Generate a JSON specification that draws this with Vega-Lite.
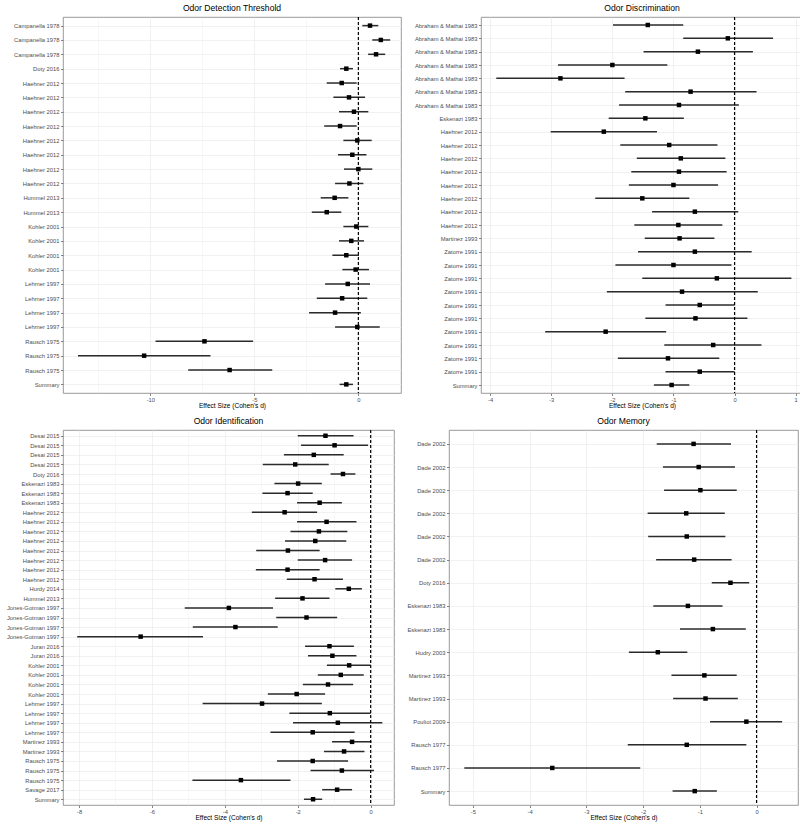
{
  "$schema": "https://vega.github.io/schema/vega-lite/v6.json",
  "background": "white",
  "padding": {"left": 0, "top": 3, "right": 0, "bottom": 0},
  "config": {
    "font": "Liberation Sans",
    "view": {"stroke": "#808080", "strokeWidth": 0.8},
    "axis": {
      "labelFontSize": 5.8,
      "labelColor": "#4d4d4d",
      "tickColor": "#333333",
      "tickSize": 2.5,
      "tickWidth": 0.6,
      "labelPadding": 1.5,
      "domain": false,
      "gridColor": "#ebebeb",
      "gridWidth": 0.7,
      "titleFontSize": 6.6,
      "titleFontWeight": "normal",
      "titleColor": "#000000",
      "titlePadding": 1.5
    },
    "axisX": {"labelPadding": 0.5, "titlePadding": 1},
    "title": {"fontSize": 8.6, "fontWeight": "normal", "anchor": "middle", "offset": 3.5, "color": "#000000"}
  },
  "datasets": {
    "d1": [
      {"id": "01|Campanella 1978", "es": 0.56, "lo": 0.19, "hi": 0.96},
      {"id": "02|Campanella 1978", "es": 1.08, "lo": 0.67, "hi": 1.53},
      {"id": "03|Campanella 1978", "es": 0.85, "lo": 0.47, "hi": 1.29},
      {"id": "04|Doty 2016", "es": -0.58, "lo": -0.88, "hi": -0.26},
      {"id": "05|Haehner 2012", "es": -0.80, "lo": -1.52, "hi": -0.08},
      {"id": "06|Haehner 2012", "es": -0.45, "lo": -1.20, "hi": 0.32},
      {"id": "07|Haehner 2012", "es": -0.21, "lo": -0.93, "hi": 0.48},
      {"id": "08|Haehner 2012", "es": -0.88, "lo": -1.64, "hi": -0.08},
      {"id": "09|Haehner 2012", "es": -0.05, "lo": -0.72, "hi": 0.64},
      {"id": "10|Haehner 2012", "es": -0.29, "lo": -0.98, "hi": 0.39},
      {"id": "11|Haehner 2012", "es": 0.0, "lo": -0.69, "hi": 0.67},
      {"id": "12|Haehner 2012", "es": -0.43, "lo": -1.12, "hi": 0.24},
      {"id": "13|Hummel 2013", "es": -1.14, "lo": -1.81, "hi": -0.48},
      {"id": "14|Hummel 2013", "es": -1.52, "lo": -2.24, "hi": -0.82},
      {"id": "15|Kohler 2001", "es": -0.10, "lo": -0.72, "hi": 0.48},
      {"id": "16|Kohler 2001", "es": -0.34, "lo": -0.93, "hi": 0.27},
      {"id": "17|Kohler 2001", "es": -0.58, "lo": -1.25, "hi": 0.03},
      {"id": "18|Kohler 2001", "es": -0.13, "lo": -0.77, "hi": 0.51},
      {"id": "19|Lehrner 1997", "es": -0.51, "lo": -1.60, "hi": 0.56},
      {"id": "20|Lehrner 1997", "es": -0.78, "lo": -2.00, "hi": 0.43},
      {"id": "21|Lehrner 1997", "es": -1.12, "lo": -2.37, "hi": 0.12},
      {"id": "22|Lehrner 1997", "es": -0.05, "lo": -1.12, "hi": 1.03},
      {"id": "23|Rausch 1975", "es": -7.40, "lo": -9.75, "hi": -5.06},
      {"id": "24|Rausch 1975", "es": -10.30, "lo": -13.48, "hi": -7.11},
      {"id": "25|Rausch 1975", "es": -6.19, "lo": -8.18, "hi": -4.14},
      {"id": "26|Summary", "es": -0.58, "lo": -0.90, "hi": -0.26}
    ],
    "d2": [
      {"id": "01|Abraham & Mathai 1983", "es": -1.42, "lo": -1.99, "hi": -0.84},
      {"id": "02|Abraham & Mathai 1983", "es": -0.11, "lo": -0.84, "hi": 0.63},
      {"id": "03|Abraham & Mathai 1983", "es": -0.60, "lo": -1.49, "hi": 0.30},
      {"id": "04|Abraham & Mathai 1983", "es": -2.00, "lo": -2.89, "hi": -1.10},
      {"id": "05|Abraham & Mathai 1983", "es": -2.85, "lo": -3.90, "hi": -1.80},
      {"id": "06|Abraham & Mathai 1983", "es": -0.72, "lo": -1.79, "hi": 0.36},
      {"id": "07|Abraham & Mathai 1983", "es": -0.91, "lo": -1.89, "hi": 0.07},
      {"id": "08|Eskenazi 1983", "es": -1.46, "lo": -2.06, "hi": -0.83},
      {"id": "09|Haehner 2012", "es": -2.14, "lo": -3.01, "hi": -1.27},
      {"id": "10|Haehner 2012", "es": -1.07, "lo": -1.87, "hi": -0.28},
      {"id": "11|Haehner 2012", "es": -0.88, "lo": -1.60, "hi": -0.15},
      {"id": "12|Haehner 2012", "es": -0.91, "lo": -1.69, "hi": -0.13},
      {"id": "13|Haehner 2012", "es": -1.00, "lo": -1.73, "hi": -0.27},
      {"id": "14|Haehner 2012", "es": -1.51, "lo": -2.28, "hi": -0.74},
      {"id": "15|Haehner 2012", "es": -0.65, "lo": -1.35, "hi": 0.06},
      {"id": "16|Haehner 2012", "es": -0.92, "lo": -1.64, "hi": -0.20},
      {"id": "17|Martinez 1993", "es": -0.90, "lo": -1.47, "hi": -0.33},
      {"id": "18|Zatorre 1991", "es": -0.65, "lo": -1.58, "hi": 0.28},
      {"id": "19|Zatorre 1991", "es": -1.00, "lo": -1.95, "hi": -0.05},
      {"id": "20|Zatorre 1991", "es": -0.29, "lo": -1.51, "hi": 0.93},
      {"id": "21|Zatorre 1991", "es": -0.86, "lo": -2.09, "hi": 0.38},
      {"id": "22|Zatorre 1991", "es": -0.57, "lo": -1.13, "hi": 0.0},
      {"id": "23|Zatorre 1991", "es": -0.64, "lo": -1.46, "hi": 0.21},
      {"id": "24|Zatorre 1991", "es": -2.11, "lo": -3.10, "hi": -1.12},
      {"id": "25|Zatorre 1991", "es": -0.35, "lo": -1.15, "hi": 0.44},
      {"id": "26|Zatorre 1991", "es": -1.09, "lo": -1.91, "hi": -0.25},
      {"id": "27|Zatorre 1991", "es": -0.57, "lo": -1.13, "hi": 0.0},
      {"id": "28|Summary", "es": -1.03, "lo": -1.32, "hi": -0.74}
    ],
    "d3": [
      {"id": "01|Desai 2015", "es": -1.24, "lo": -2.00, "hi": -0.47},
      {"id": "02|Desai 2015", "es": -0.99, "lo": -1.91, "hi": -0.07},
      {"id": "03|Desai 2015", "es": -1.56, "lo": -2.38, "hi": -0.74},
      {"id": "04|Desai 2015", "es": -2.07, "lo": -2.96, "hi": -1.15},
      {"id": "05|Doty 2016", "es": -0.76, "lo": -1.10, "hi": -0.42},
      {"id": "06|Eskenazi 1983", "es": -1.99, "lo": -2.64, "hi": -1.34},
      {"id": "07|Eskenazi 1983", "es": -2.28, "lo": -2.97, "hi": -1.59},
      {"id": "08|Eskenazi 1983", "es": -1.40, "lo": -2.02, "hi": -0.79},
      {"id": "09|Haehner 2012", "es": -2.36, "lo": -3.26, "hi": -1.47},
      {"id": "10|Haehner 2012", "es": -1.21, "lo": -2.02, "hi": -0.39},
      {"id": "11|Haehner 2012", "es": -1.42, "lo": -2.20, "hi": -0.64},
      {"id": "12|Haehner 2012", "es": -1.52, "lo": -2.35, "hi": -0.67},
      {"id": "13|Haehner 2012", "es": -2.27, "lo": -3.14, "hi": -1.40},
      {"id": "14|Haehner 2012", "es": -1.25, "lo": -2.00, "hi": -0.51},
      {"id": "15|Haehner 2012", "es": -2.28, "lo": -3.15, "hi": -1.40},
      {"id": "16|Haehner 2012", "es": -1.54, "lo": -2.30, "hi": -0.76},
      {"id": "17|Hurdy 2014", "es": -0.60, "lo": -0.97, "hi": -0.24},
      {"id": "18|Hummel 2013", "es": -1.87, "lo": -2.62, "hi": -1.13},
      {"id": "19|Jones-Gotman 1997", "es": -3.89, "lo": -5.10, "hi": -2.68},
      {"id": "20|Jones-Gotman 1997", "es": -1.76, "lo": -2.59, "hi": -0.92},
      {"id": "21|Jones-Gotman 1997", "es": -3.71, "lo": -4.88, "hi": -2.55},
      {"id": "22|Jones-Gotman 1997", "es": -6.31, "lo": -8.05, "hi": -4.60},
      {"id": "23|Juran 2016", "es": -1.13, "lo": -1.80, "hi": -0.46},
      {"id": "24|Juran 2016", "es": -1.05, "lo": -1.72, "hi": -0.39},
      {"id": "25|Kohler 2001", "es": -0.59, "lo": -1.20, "hi": 0.0},
      {"id": "26|Kohler 2001", "es": -0.82, "lo": -1.45, "hi": -0.19},
      {"id": "27|Kohler 2001", "es": -1.17, "lo": -1.86, "hi": -0.48},
      {"id": "28|Kohler 2001", "es": -2.03, "lo": -2.82, "hi": -1.25},
      {"id": "29|Lehrner 1997", "es": -2.98, "lo": -4.61, "hi": -1.34},
      {"id": "30|Lehrner 1997", "es": -1.12, "lo": -2.23, "hi": 0.0},
      {"id": "31|Lehrner 1997", "es": -0.90, "lo": -2.13, "hi": 0.32},
      {"id": "32|Lehrner 1997", "es": -1.59, "lo": -2.75, "hi": -0.44},
      {"id": "33|Martinez 1993", "es": -0.51, "lo": -1.06, "hi": 0.02},
      {"id": "34|Martinez 1993", "es": -0.73, "lo": -1.28, "hi": -0.17},
      {"id": "35|Rausch 1975", "es": -1.59, "lo": -2.57, "hi": -0.62},
      {"id": "36|Rausch 1975", "es": -0.79, "lo": -1.65, "hi": 0.09},
      {"id": "37|Rausch 1975", "es": -3.56, "lo": -4.89, "hi": -2.20},
      {"id": "38|Savage 2017", "es": -0.92, "lo": -1.33, "hi": -0.51},
      {"id": "39|Summary", "es": -1.58, "lo": -1.83, "hi": -1.33}
    ],
    "d4": [
      {"id": "01|Dade 2002", "es": -1.11, "lo": -1.76, "hi": -0.45},
      {"id": "02|Dade 2002", "es": -1.02, "lo": -1.65, "hi": -0.38},
      {"id": "03|Dade 2002", "es": -0.99, "lo": -1.63, "hi": -0.35},
      {"id": "04|Dade 2002", "es": -1.24, "lo": -1.92, "hi": -0.56},
      {"id": "05|Dade 2002", "es": -1.23, "lo": -1.91, "hi": -0.55},
      {"id": "06|Dade 2002", "es": -1.10, "lo": -1.77, "hi": -0.44},
      {"id": "07|Doty 2016", "es": -0.46, "lo": -0.79, "hi": -0.13},
      {"id": "08|Eskenazi 1983", "es": -1.21, "lo": -1.82, "hi": -0.60},
      {"id": "09|Eskenazi 1983", "es": -0.77, "lo": -1.35, "hi": -0.19},
      {"id": "10|Hudry 2003", "es": -1.74, "lo": -2.25, "hi": -1.22},
      {"id": "11|Martinez 1993", "es": -0.92, "lo": -1.50, "hi": -0.35},
      {"id": "12|Martinez 1993", "es": -0.90, "lo": -1.47, "hi": -0.33},
      {"id": "13|Pouliot 2009", "es": -0.18, "lo": -0.82, "hi": 0.45},
      {"id": "14|Rausch 1977", "es": -1.23, "lo": -2.27, "hi": -0.18},
      {"id": "15|Rausch 1977", "es": -3.60, "lo": -5.15, "hi": -2.05},
      {"id": "16|Summary", "es": -1.09, "lo": -1.48, "hi": -0.70}
    ]
  },
  "spacing": 6,
  "vconcat": [
    {
      "spacing": 11,
      "hconcat": [
        {
          "title": "Odor Detection Threshold",
          "width": 338, "height": 376,
          "layer": [
            {
              "data": {"name": "d1"},
              "mark": {"type": "rule", "color": "#2b2b2b", "strokeWidth": 1.5},
              "encoding": {
                "y": {"field": "id", "type": "nominal", "sort": null, "scale": {"type": "point", "padding": 0.6},
                      "axis": {"title": null, "grid": true, "labelExpr": "split(datum.label,'|')[1]", "minExtent": 54, "maxExtent": 54}},
                "x": {"field": "lo", "type": "quantitative", "scale": {"domain": [-14.2, 2.05], "nice": false, "zero": false},
                      "axis": {"title": "Effect Size (Cohen's d)", "grid": true, "values": [-12.5, -10, -7.5, -5, -2.5, 0],
                               "labelExpr": "datum.value % 5 === 0 ? toString(datum.value) : ''",
                               "tickOpacity": {"condition": {"test": "datum.value % 5 !== 0", "value": 0}, "value": 1},
                               "gridWidth": {"condition": {"test": "datum.value % 5 !== 0", "value": 0.4}, "value": 0.7}}},
                "x2": {"field": "hi"}
              }
            },
            {
              "data": {"name": "d1"},
              "mark": {"type": "square", "color": "black", "opacity": 1, "size": 20},
              "encoding": {
                "y": {"field": "id", "type": "nominal", "sort": null},
                "x": {"field": "es", "type": "quantitative"}
              }
            },
            {
              "data": {"values": [{}]},
              "mark": {"type": "rule", "color": "black", "strokeWidth": 1.2, "strokeDash": [3, 2]},
              "encoding": {"x": {"datum": 0}}
            }
          ]
        },
        {
          "title": "Odor Discrimination",
          "width": 322, "height": 376,
          "layer": [
            {
              "data": {"name": "d2"},
              "mark": {"type": "rule", "color": "#2b2b2b", "strokeWidth": 1.5},
              "encoding": {
                "y": {"field": "id", "type": "nominal", "sort": null, "scale": {"type": "point", "padding": 0.6},
                      "axis": {"title": null, "grid": true, "labelExpr": "split(datum.label,'|')[1]", "minExtent": 67, "maxExtent": 67}},
                "x": {"field": "lo", "type": "quantitative", "scale": {"domain": [-4.15, 1.12], "nice": false, "zero": false},
                      "axis": {"title": "Effect Size (Cohen's d)", "grid": true, "values": [-4, -3.5, -3, -2.5, -2, -1.5, -1, -0.5, 0, 0.5, 1],
                               "labelExpr": "datum.value % 1 === 0 ? toString(datum.value) : ''",
                               "tickOpacity": {"condition": {"test": "datum.value % 1 !== 0", "value": 0}, "value": 1},
                               "gridWidth": {"condition": {"test": "datum.value % 1 !== 0", "value": 0.4}, "value": 0.7}}},
                "x2": {"field": "hi"}
              }
            },
            {
              "data": {"name": "d2"},
              "mark": {"type": "square", "color": "black", "opacity": 1, "size": 20},
              "encoding": {
                "y": {"field": "id", "type": "nominal", "sort": null},
                "x": {"field": "es", "type": "quantitative"}
              }
            },
            {
              "data": {"values": [{}]},
              "mark": {"type": "rule", "color": "black", "strokeWidth": 1.2, "strokeDash": [3, 2]},
              "encoding": {"x": {"datum": 0}}
            }
          ]
        }
      ]
    },
    {
      "spacing": 10,
      "hconcat": [
        {
          "title": "Odor Identification",
          "width": 331, "height": 375,
          "layer": [
            {
              "data": {"name": "d3"},
              "mark": {"type": "rule", "color": "#2b2b2b", "strokeWidth": 1.5},
              "encoding": {
                "y": {"field": "id", "type": "nominal", "sort": null, "scale": {"type": "point", "padding": 0.6},
                      "axis": {"title": null, "grid": true, "labelExpr": "split(datum.label,'|')[1]", "minExtent": 62, "maxExtent": 62}},
                "x": {"field": "lo", "type": "quantitative", "scale": {"domain": [-8.44, 0.64], "nice": false, "zero": false},
                      "axis": {"title": "Effect Size (Cohen's d)", "grid": true, "values": [-8, -7, -6, -5, -4, -3, -2, -1, 0],
                               "labelExpr": "datum.value % 2 === 0 ? toString(datum.value) : ''",
                               "tickOpacity": {"condition": {"test": "datum.value % 2 !== 0", "value": 0}, "value": 1},
                               "gridWidth": {"condition": {"test": "datum.value % 2 !== 0", "value": 0.4}, "value": 0.7}}},
                "x2": {"field": "hi"}
              }
            },
            {
              "data": {"name": "d3"},
              "mark": {"type": "square", "color": "black", "opacity": 1, "size": 20},
              "encoding": {
                "y": {"field": "id", "type": "nominal", "sort": null},
                "x": {"field": "es", "type": "quantitative"}
              }
            },
            {
              "data": {"values": [{}]},
              "mark": {"type": "rule", "color": "black", "strokeWidth": 1.2, "strokeDash": [3, 2]},
              "encoding": {"x": {"datum": 0}}
            }
          ]
        },
        {
          "title": "Odor Memory",
          "width": 349, "height": 375,
          "layer": [
            {
              "data": {"name": "d4"},
              "mark": {"type": "rule", "color": "#2b2b2b", "strokeWidth": 1.5},
              "encoding": {
                "y": {"field": "id", "type": "nominal", "sort": null, "scale": {"type": "point", "padding": 0.6},
                      "axis": {"title": null, "grid": true, "labelExpr": "split(datum.label,'|')[1]", "minExtent": 43, "maxExtent": 43}},
                "x": {"field": "lo", "type": "quantitative", "scale": {"domain": [-5.42, 0.73], "nice": false, "zero": false},
                      "axis": {"title": "Effect Size (Cohen's d)", "grid": true, "values": [-5, -4.5, -4, -3.5, -3, -2.5, -2, -1.5, -1, -0.5, 0, 0.5],
                               "labelExpr": "datum.value % 1 === 0 ? toString(datum.value) : ''",
                               "tickOpacity": {"condition": {"test": "datum.value % 1 !== 0", "value": 0}, "value": 1},
                               "gridWidth": {"condition": {"test": "datum.value % 1 !== 0", "value": 0.4}, "value": 0.7}}},
                "x2": {"field": "hi"}
              }
            },
            {
              "data": {"name": "d4"},
              "mark": {"type": "square", "color": "black", "opacity": 1, "size": 20},
              "encoding": {
                "y": {"field": "id", "type": "nominal", "sort": null},
                "x": {"field": "es", "type": "quantitative"}
              }
            },
            {
              "data": {"values": [{}]},
              "mark": {"type": "rule", "color": "black", "strokeWidth": 1.2, "strokeDash": [3, 2]},
              "encoding": {"x": {"datum": 0}}
            }
          ]
        }
      ]
    }
  ]
}
